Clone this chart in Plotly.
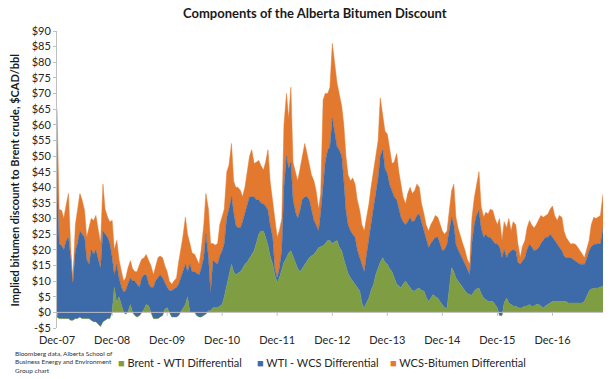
import plotly.graph_objects as go
import pandas as pd

# Semi-monthly observations (1st and 15th), Dec 2007 .. Nov 2017, $CAD/bbl
brent_wti = [
    -1.5, -2, -2, -2, -2, -2, -2.5, -2.5, -2, -2,
    -1.5, -2, -2, -2, -2, -2.5, -3, -3, -4, -4.5,
    -3, -2.5, -2, -2, 0, 8, 3, 5, 2, 0,
    -0.5, 0, 2.5, 0, -1, -1.5, -1, 0, 1, 2.5,
    2, 0, -2, -2, -2, -1.5, -1, 1, 1.5, 0,
    -1.5, -1.5, -1.5, -1, 0, 1, 2.5, 5, 0, 0,
    0, -1, -1.5, -1.5, -1, -0.5, 0.5, 0.5, 1.5, 1.5,
    1.5, 2, 2.5, 5, 9, 12, 15.4, 13, 12, 12.5,
    13, 14, 15.4, 16, 17.5, 18.5, 19.7, 22, 25, 26,
    26, 24, 21.3, 18, 15.4, 12, 9.5, 11, 14, 16,
    17.5, 19, 19.7, 18, 15.4, 14, 13, 14, 15.4, 16.5,
    17.5, 18, 18.6, 19.5, 20.7, 21, 21.3, 22, 23, 23,
    22, 22.5, 23, 21, 19.7, 17, 14.3, 12.5, 11, 10,
    9, 8, 6.8, 3, 1.4, 3, 4.6, 7, 9, 12,
    14.3, 16, 17.5, 16, 15.4, 14, 13, 11, 9, 8.5,
    7.8, 9, 10, 9, 7.8, 7, 6.8, 7.5, 7.8, 7,
    6.8, 5, 3.5, 4.5, 5.7, 5, 4.6, 3.5, 2.5, 1.5,
    1.4, 8, 14.3, 13, 11, 10, 9, 8, 6.8, 6,
    5.7, 5.5, 6.8, 7.5, 7.8, 6, 4.6, 4, 3.5, 3.5,
    3.5, 2.5, 1.4, -1, -1, 3, 4.6, 3, 2.5, 2,
    2, 1.5, 1.4, 1.5, 2, 2, 2.5, 2, 2, 2.5,
    2.5, 2, 1.4, 2, 2.5, 3, 3.5, 3.5, 3.5, 3.5,
    3.5, 3.5, 3.5, 3, 3, 3, 3, 3, 3, 3,
    3.5, 5, 6.8, 7.5, 7.8, 7.8, 7.8, 8, 8.4,
]
wti_wcs = [
    46.5, 24, 23.3, 22, 25, 26, 20, 12, 21.7, 24,
    27.5, 27, 26, 19, 17.4, 22.5, 21.6, 23, 21, 18.5,
    29, 27.5, 26, 24, 17.5, 4, 12.4, 6, 6, 6.5,
    7.5, 9, 8.5, 10, 11, 10.5, 9, 11, 11, 9.5,
    7, 8, 10, 12, 13, 13.5, 12, 8.5, 6.5, 7,
    8.5, 9, 9.5, 10, 11, 12, 12.9, 8, 15.5, 13,
    13, 13.5, 13.5, 15.5, 18.5, 25.5, 17, 5.5, 15, 14.5,
    13.9, 16, 17.2, 17, 21.4, 21, 21.6, 19, 16, 14.5,
    14, 15, 16.1, 18, 19.5, 18.5, 17.3, 14, 11, 9,
    8.7, 10, 11.3, 10, 8.6, 2, 1.5, 3, 6, 24,
    32.5, 27, 28.3, 18, 16.6, 16, 19.6, 22, 21.6, 20.5,
    18.5, 15, 10.8, 8.5, 5.3, 11, 20.7, 26, 29, 30,
    40, 35.5, 30, 31, 30.3, 25, 18.3, 15.5, 15, 15,
    15, 12, 10.7, 12, 11.6, 15, 19.4, 22, 24.7, 26,
    28.7, 34, 34.5, 30, 29, 27, 26, 26, 27, 24.5,
    22.6, 20, 18, 20, 22.6, 22, 22.6, 23.5, 23.7, 22,
    19.2, 18, 17.2, 17.5, 17.3, 19, 19.4, 18.5, 17.2, 18.5,
    20.4, 18, 16.1, 15, 10.8, 10, 9.6, 9, 8.6, 8,
    6.3, 16.5, 21.2, 23.5, 24.8, 21, 19.4, 21, 20.5, 20.5,
    19.5, 19.5, 20.4, 22, 18.5, 17, 12.9, 16, 17.2, 18,
    17.7, 14.5, 14, 15, 15.5, 18, 19.3, 19, 17.7, 17.5,
    18.2, 20, 21.6, 22, 21.5, 22, 20.5, 19.5, 18.3, 17.5,
    16.2, 14.5, 14, 14.5, 14.5, 14, 13.5, 13, 12.4, 12.4,
    11.9, 12, 12.9, 13.5, 14, 14, 14, 14, 18.6,
]
wcs_bitumen = [
    20, 11, 11.3, 10, 11.7, 14, 3.2, 0.5, 8.3, 11,
    12, 11, 8.6, 7, 11.6, 10, 10.8, 11, 9, 8,
    15, 8, 6.4, 7, 11.9, 8, 7.6, 6, 5, 3.5,
    4, 5, 5.5, 4, 3, 4, 7.4, 6, 5.5, 6.5,
    7.5, 7, 4, 5, 6.5, 6, 6.5, 5.5, 5, 3,
    2, 2.5, 3, 7, 8.7, 11, 15, 12, 6.5, 6,
    5.6, 4.5, 3.4, 6, 10.5, 13, 15.5, 16, 5.5, 5.5,
    6.6, 10, 10.7, 11, 14.6, 14, 17, 10, 12, 13,
    12, 8, 8.5, 11, 13, 15, 10.6, 12, 12.6, 12,
    10.8, 14, 19.4, 14, 11, 15, 13, 12, 10, 20,
    20, 16, 24, 12, 13, 12, 13.4, 14, 17, 14,
    11.6, 11, 12.6, 11, 7, 6, 26, 22, 18, 19,
    24, 22, 20.4, 18, 16, 18, 17.4, 16, 16, 18,
    17, 16, 15.1, 13, 13, 12, 10.7, 11, 11.8, 12,
    12, 18.6, 10, 12, 12.6, 11, 8.6, 11, 14.8, 12,
    10.6, 8, 6.7, 9, 9.6, 9, 9.6, 10, 8.5, 6,
    5.5, 5, 5.3, 6, 6.4, 7, 6.4, 6, 6.3, 5,
    4.2, 6, 8.6, 13, 8.6, 7, 5.4, 5, 4.3, 3,
    3.4, 8, 8.7, 9, 12.4, 7, 6.4, 7, 7.5, 9,
    9.6, 8, 6.2, 9, 5.5, 9, 9.5, 11, 6.3, 9,
    8.3, 6, 2.1, 4.5, 5.5, 7, 7.6, 7, 7.3, 8,
    8.7, 9, 7.4, 7, 7.5, 8, 10, 8, 7.6, 10,
    10.7, 8, 6.5, 5.5, 4.3, 5, 5.3, 5, 4.3, 3.1,
    2.1, 3, 3.3, 7, 8.6, 8.2, 8.6, 9, 10.8,
]
dates = pd.date_range("2007-12-01", periods=len(brent_wti), freq="SMS")

series_names = ["Brent - WTI Differential", "WTI - WCS Differential", "WCS-Bitumen Differential"]
colors = ["#7f9e43", "#3d6aa9", "#e3792f"]

x_tick_dates = pd.date_range("2007-12-01", periods=10, freq="12MS")
x_tick_labels = ["Dec-07", "Dec-08", "Dec-09", "Dec-10", "Dec-11",
                 "Dec-12", "Dec-13", "Dec-14", "Dec-15", "Dec-16"]
y_tick_vals = list(range(-5, 95, 5))
y_tick_labels = ["-$5"] + [f"${v}" for v in range(0, 95, 5)]

fig = go.Figure()
for name, vals, col in zip(series_names, [brent_wti, wti_wcs, wcs_bitumen], colors):
    fig.add_trace(go.Scatter(
        x=dates, y=vals, name=name, mode="lines",
        stackgroup="one", fillcolor=col, showlegend=False,
        line=dict(width=0.5, color=col, shape="linear"),
    ))

font_family = "Lato, 'Open Sans', sans-serif"

fig.update_layout(
    width=615, height=379,
    margin=dict(l=57, r=12, t=31, b=51),
    paper_bgcolor="white", plot_bgcolor="white",
    font=dict(family=font_family, size=11, color="#262626"),
    title=dict(text="<b>Components of the Alberta Bitumen Discount</b>",
               x=0.512, xref="container", xanchor="center",
               y=1 - 13.5 / 379, yref="container", yanchor="middle",
               font=dict(size=13, color="#1a1a1a", family=font_family)),
    showlegend=False,
    xaxis=dict(type="date", range=[dates[0], dates[-1]],
               tickvals=x_tick_dates, ticktext=x_tick_labels,
               showgrid=False, zeroline=False, showline=False, ticks="",
               tickfont=dict(size=11, color="#262626"), ticklabelstandoff=4),
    yaxis=dict(range=[-5, 90], tickvals=y_tick_vals, ticktext=y_tick_labels,
               showgrid=False, zeroline=False, showline=True,
               linecolor="#bfbfbf", linewidth=1, ticks="outside", ticklen=3,
               tickcolor="#bfbfbf", tickfont=dict(size=11, color="#262626")),
)

# horizontal axis line at zero with its tick marks (Excel-style)
fig.add_shape(type="line", xref="paper", yref="y", x0=0, x1=1, y0=0, y1=0,
              line=dict(color="#bfbfbf", width=1), layer="above")
for d in x_tick_dates:
    fig.add_shape(type="line", xref="x", yref="y", x0=d, x1=d, y0=0, y1=-1.1,
                  line=dict(color="#bfbfbf", width=1), layer="above")

fig.add_annotation(text="<b>Implied bitumen discount to Brent crude, $CAD/bbl</b>",
                   xref="paper", yref="paper", x=-0.077, y=0.5,
                   textangle=-90, showarrow=False, xanchor="center", yanchor="middle",
                   font=dict(size=11, color="#1a1a1a"))

fig.add_annotation(text="Bloomberg data, Alberta School of<br>Business Energy and Environment<br>Group chart",
                   xref="paper", yref="paper", x=-0.0806, y=-0.068,
                   xanchor="left", yanchor="top", align="left", showarrow=False,
                   font=dict(size=6.5, color="#333333"))

# legend entries (square swatch + label)
legend_x = [0.108, 0.362, 0.607]
for name, col, lx in zip(series_names, colors, legend_x):
    fig.add_annotation(
        text=f"<span style='color:{col}'>■</span> {name}",
        xref="paper", yref="paper", x=lx, y=-0.115,
        xanchor="left", yanchor="middle", showarrow=False,
        font=dict(size=11, color="#262626"))

fig.write_html("out.html",
               config={"displayModeBar": False},
               post_script="document.body.style.margin='0';document.body.style.padding='0';")
